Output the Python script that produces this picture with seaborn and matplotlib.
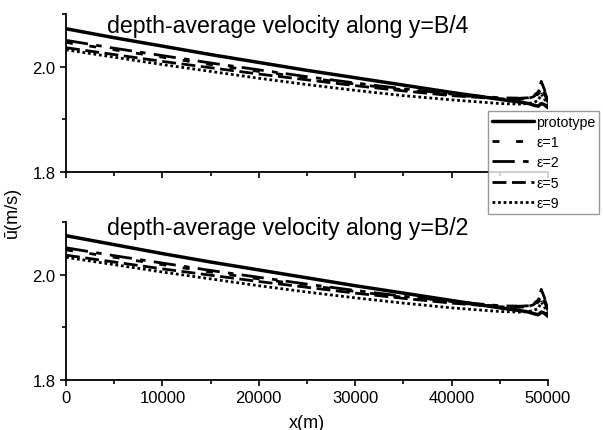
import numpy as np
import pandas as pd
import matplotlib
matplotlib.use("Agg")
import matplotlib.pyplot as plt
import seaborn as sns

# x positions along the channel (m)
x_m = [0, 5000, 10000, 15000, 20000, 25000, 30000, 35000, 40000,
       45000, 47000, 48000, 48500, 49000, 49300, 49600, 50000]

series_names = ["prototype", "ε=1", "ε=2", "ε=5", "ε=9"]

# y = B/4
b4_prototype = [2.072, 2.055, 2.039, 2.023, 2.008, 1.993, 1.979, 1.965, 1.951,
                1.938, 1.933, 1.930, 1.927, 1.925, 1.930, 1.928, 1.922]
b4_eps1 = [2.046, 2.032, 2.018, 2.004, 1.991, 1.979, 1.967, 1.956, 1.946,
           1.940, 1.940, 1.942, 1.945, 1.952, 1.968, 1.955, 1.935]
b4_eps2 = [2.050, 2.035, 2.021, 2.007, 1.994, 1.981, 1.969, 1.958, 1.948,
           1.941, 1.940, 1.941, 1.943, 1.948, 1.960, 1.950, 1.932]
b4_eps5 = [2.036, 2.023, 2.010, 1.998, 1.986, 1.975, 1.964, 1.954, 1.945,
           1.939, 1.938, 1.940, 1.943, 1.950, 1.972, 1.958, 1.935]
b4_eps9 = [2.032, 2.018, 2.004, 1.991, 1.978, 1.966, 1.955, 1.945, 1.937,
           1.930, 1.929, 1.930, 1.932, 1.936, 1.948, 1.940, 1.925]

# y = B/2
b2_prototype = [2.074, 2.057, 2.040, 2.024, 2.009, 1.994, 1.979, 1.965, 1.951,
                1.937, 1.932, 1.929, 1.926, 1.924, 1.929, 1.927, 1.921]
b2_eps1 = [2.047, 2.033, 2.019, 2.005, 1.992, 1.980, 1.968, 1.957, 1.947,
           1.940, 1.940, 1.942, 1.945, 1.952, 1.968, 1.955, 1.935]
b2_eps2 = [2.051, 2.036, 2.022, 2.008, 1.995, 1.982, 1.970, 1.959, 1.949,
           1.941, 1.940, 1.941, 1.943, 1.948, 1.960, 1.950, 1.932]
b2_eps5 = [2.037, 2.024, 2.011, 1.999, 1.987, 1.976, 1.965, 1.955, 1.946,
           1.939, 1.938, 1.940, 1.943, 1.950, 1.972, 1.958, 1.935]
b2_eps9 = [2.033, 2.019, 2.005, 1.992, 1.979, 1.967, 1.956, 1.946, 1.937,
           1.930, 1.929, 1.930, 1.932, 1.936, 1.948, 1.940, 1.925]

panel_titles = ["depth-average velocity along y=B/4",
                "depth-average velocity along y=B/2"]

def long_frame(cols):
    rows = []
    for name, vals in zip(series_names, cols):
        for xv, yv in zip(x_m, vals):
            rows.append((xv, yv, name))
    return pd.DataFrame(rows, columns=["x", "u", "case"])

df_b4 = long_frame([b4_prototype, b4_eps1, b4_eps2, b4_eps5, b4_eps9])
df_b2 = long_frame([b2_prototype, b2_eps1, b2_eps2, b2_eps5, b2_eps9])

sns.set_style("ticks", {"axes.edgecolor": "black", "text.color": "black",
                        "xtick.color": "black", "ytick.color": "black",
                        "axes.labelcolor": "black"})
plt.rcParams["font.family"] = ["Liberation Sans", "DejaVu Sans"]

dash_map = {"prototype": "", "ε=1": (2.5, 6), "ε=2": (8, 3, 2, 3),
            "ε=5": (5, 2), "ε=9": (1, 1)}
pal = {n: "black" for n in series_names}

fig = plt.figure(figsize=(6.03, 4.31), dpi=100)
ax1 = fig.add_axes([66/603, 1-173/431, 482/603, 158/431])
ax2 = fig.add_axes([66/603, 1-381/431, 482/603, 158/431])

for ax, df, title, base in [(ax1, df_b4, panel_titles[0], 0.886),
                            (ax2, df_b2, panel_titles[1], 0.924)]:
    sns.lineplot(data=df, x="x", y="u", hue="case", style="case",
                 palette=pal, dashes=dash_map, linewidth=2, ax=ax,
                 legend=False, sort=False)
    # prototype drawn a little heavier
    ax.lines[0].set_linewidth(2.5)
    ax.set_xlim(0, 50000)
    ax.set_ylim(1.8, 2.1)
    ax.set_yticks([1.8, 2.0])
    ax.set_yticks([1.9, 2.1], minor=True)
    ax.set_xticks(range(0, 50001, 10000))
    ax.set_xticks(range(5000, 50000, 10000), minor=True)
    ax.yaxis.set_major_formatter(matplotlib.ticker.FormatStrFormatter("%.1f"))
    ax.tick_params(which="major", length=4, width=1.2, labelsize=12,
                   direction="out", colors="black")
    ax.tick_params(which="minor", length=3, width=1.2, direction="out",
                   colors="black")
    for s in ["top", "right"]:
        ax.spines[s].set_visible(False)
    for s in ["left", "bottom"]:
        ax.spines[s].set_linewidth(1.3)
        ax.spines[s].set_color("black")
    ax.set_xlabel("")
    ax.set_ylabel("")
    ax.text(0.085, base, title, transform=ax.transAxes, fontsize=16.7,
            va="baseline", ha="left", color="black")

ax1.tick_params(axis="x", labelbottom=False)
ax2.set_xlabel("x(m)", fontsize=13, labelpad=6, color="black")
fig.text(12/603, 1-212/431, "ū(m/s)", rotation=90, fontsize=13,
         ha="center", va="center", color="black")

handles = ax1.lines[:5]
leg = fig.legend(handles, series_names, loc="upper left",
                 bbox_to_anchor=(488/603, 1-112/431), fontsize=10.2,
                 frameon=True, fancybox=False, handlelength=3.0,
                 handletextpad=0.15, labelspacing=0.45, borderpad=0.25,
                 borderaxespad=0, labelcolor="black")
leg.get_frame().set_edgecolor("gray")
leg.get_frame().set_linewidth(1)

fig.savefig("out.png", dpi=100)
